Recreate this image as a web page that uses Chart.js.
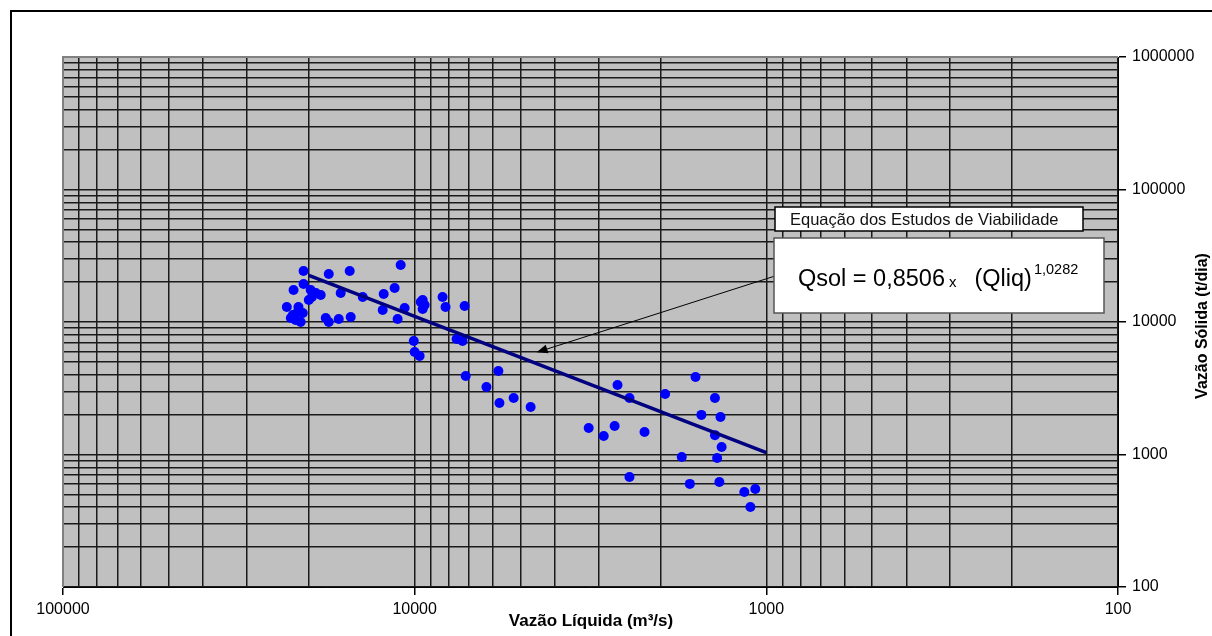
<!DOCTYPE html>
<html>
<head>
<meta charset="utf-8">
<title>Vazão Sólida x Vazão Líquida</title>
<script src="https://cdn.jsdelivr.net/npm/chart.js@4.4.1/dist/chart.umd.min.js"></script>
<style>
  html, body { margin: 0; padding: 0; background: #fff; }
  #wrap { width: 1212px; height: 636px; }
</style>
</head>
<body>
<div id="wrap"><canvas id="grafico" width="1212" height="636"></canvas></div>
<script>
// medições: vazão líquida (m3/s) e vazão sólida (t/dia)
const vazaoLiquida = [20700, 22100, 20700, 19750, 19100, 18500, 19600, 20000, 23100, 21400,
  21500, 20800, 22200, 22500, 21800, 21100, 17550, 15300, 16230, 17550,
  17900, 16440, 15200, 14050, 12250, 11400, 10960, 12330, 11180, 10680,
  9490, 9370, 9490, 9610, 8330, 8170, 7210, 10060, 10000, 9680,
  7600, 7310, 7160, 5780, 6250, 5740, 5230, 4680, 3200, 2900,
  2700, 2650, 2450, 2220, 2450, 1940, 1590, 1400, 1530, 1350,
  1400, 1340, 1740, 1380, 1650, 1360, 1155, 1075, 1110];
const vazaoSolida = [24260, 17430, 19350, 17430, 16550, 15990, 15440, 14660, 12980, 12980,
  11900, 11690, 11290, 10720, 10350, 10000, 23030, 24260, 16550, 10000,
  10720, 10530, 10910, 15440, 16270, 18060, 26930, 12320, 10530, 12750,
  14660, 13440, 12540, 14160, 15440, 12980, 13210, 7190, 5940, 5540,
  7440, 7190, 3910, 4270, 3230, 2450, 2670, 2280, 1585, 1380,
  1640, 3345, 2670, 1480, 676, 2860, 3845, 2670, 1990, 1920,
  1400, 1140, 957, 941, 600, 620, 521, 549, 402];

// reta Qsol = 0,8506 x (Qliq)^1,0282 -> extremos
const retaLiquida = [20000, 1000];
const retaSolida = [22490, 1033];

// rótulos dos eixos
const ticksX = [100000, 10000, 1000, 100];
const ticksY = [100, 1000, 10000, 100000, 1000000];
const subdivisoes = [1, 2, 3, 4, 5, 6, 7, 8, 9];

const pontos = vazaoLiquida.map((q, i) => ({ x: q, y: vazaoSolida[i] }));
const reta = retaLiquida.map((q, i) => ({ x: q, y: retaSolida[i] }));

function linhasGrade(min, max) {
  const valores = [];
  for (let d = min; d < max; d *= 10) {
    subdivisoes.forEach(m => valores.push(m * d));
  }
  valores.push(max);
  return valores;
}

const FONTE = '"Liberation Sans", Arial, sans-serif';

const moldura = {
  id: 'moldura',
  beforeDraw(chart) {
    const { ctx, chartArea: a } = chart;
    ctx.save();
    ctx.fillStyle = '#fff';
    ctx.fillRect(0, 0, chart.width, chart.height);
    ctx.fillStyle = '#c0c0c0';
    ctx.fillRect(a.left, a.top, a.right - a.left, a.bottom - a.top);
    // moldura externa da figura
    ctx.strokeStyle = '#000';
    ctx.lineWidth = 2;
    ctx.beginPath();
    ctx.moveTo(11, chart.height);
    ctx.lineTo(11, 11);
    ctx.lineTo(chart.width, 11);
    ctx.stroke();
    ctx.restore();
  },
  beforeDatasetsDraw(chart) {
    const { ctx, chartArea: a } = chart;
    ctx.save();
    ctx.strokeStyle = '#808080';
    ctx.lineWidth = 2;
    ctx.beginPath();
    ctx.moveTo(a.left, a.bottom);
    ctx.lineTo(a.left, a.top);
    ctx.lineTo(a.right, a.top);
    ctx.stroke();
    ctx.restore();
  },
  afterDraw(chart) {
    const { ctx, scales } = chart;
    ctx.save();

    // seta apontando para a reta
    const px = scales.x.getPixelForValue(4500);
    const py = scales.y.getPixelForValue(5900);
    const sx = 775, sy = 276;
    const ang = Math.atan2(py - sy, px - sx);
    ctx.strokeStyle = '#000';
    ctx.fillStyle = '#000';
    ctx.lineWidth = 1;
    ctx.beginPath();
    ctx.moveTo(sx, sy);
    ctx.lineTo(px - 8 * Math.cos(ang), py - 8 * Math.sin(ang));
    ctx.stroke();
    ctx.beginPath();
    ctx.moveTo(px, py);
    ctx.lineTo(px - 11 * Math.cos(ang) + 4.5 * Math.sin(ang), py - 11 * Math.sin(ang) - 4.5 * Math.cos(ang));
    ctx.lineTo(px - 11 * Math.cos(ang) - 4.5 * Math.sin(ang), py - 11 * Math.sin(ang) + 4.5 * Math.cos(ang));
    ctx.closePath();
    ctx.fill();

    // caixa do título da equação
    ctx.fillStyle = '#fff';
    ctx.fillRect(775, 207, 308, 24);
    ctx.strokeStyle = '#000';
    ctx.lineWidth = 1.5;
    ctx.strokeRect(775, 207, 308, 24);
    ctx.fillStyle = '#111';
    ctx.font = '16.5px ' + FONTE;
    ctx.textBaseline = 'alphabetic';
    ctx.textAlign = 'left';
    ctx.fillText('Equação dos Estudos de Viabilidade', 790, 225);

    // caixa da equação
    ctx.fillStyle = '#fff';
    ctx.fillRect(774, 238, 330, 75);
    ctx.strokeStyle = '#555';
    ctx.lineWidth = 1.5;
    ctx.strokeRect(774, 238, 330, 75);
    ctx.fillStyle = '#000';
    let x = 798;
    ctx.font = '23.5px ' + FONTE;
    ctx.fillText('Qsol = 0,8506', x, 286);
    x += ctx.measureText('Qsol = 0,8506').width + 4;
    ctx.font = '15px ' + FONTE;
    ctx.fillText('x', x, 287);
    x += ctx.measureText('x').width + 18;
    ctx.font = '23.5px ' + FONTE;
    ctx.fillText('(Qliq)', x, 286);
    x += ctx.measureText('(Qliq)').width + 2;
    ctx.font = '14.5px ' + FONTE;
    ctx.fillText('1,0282', x, 274);

    // títulos dos eixos
    ctx.fillStyle = '#000';
    ctx.textAlign = 'center';
    ctx.textBaseline = 'middle';
    ctx.font = 'bold 17px ' + FONTE;
    ctx.fillText('Vazão Líquida (m³/s)', 591, 621);
    ctx.translate(1203, 326);
    ctx.rotate(-Math.PI / 2);
    ctx.font = 'bold 16px ' + FONTE;
    ctx.fillText('Vazão Sólida (t/dia)', 0, 0);
    ctx.restore();
  }
};

new Chart(document.getElementById('grafico'), {
  type: 'scatter',
  data: {
    datasets: [
      {
        label: 'Equação dos Estudos de Viabilidade',
        data: reta,
        showLine: true,
        borderColor: '#000080',
        borderWidth: 3.5,
        pointRadius: 0,
        fill: false
      },
      {
        label: 'Medições',
        data: pontos,
        backgroundColor: '#0000ff',
        borderWidth: 0,
        pointRadius: 5,
        pointHoverRadius: 5
      }
    ]
  },
  options: {
    responsive: false,
    animation: false,
    events: [],
    layout: { padding: { left: 63, top: 57, right: 0, bottom: 0 } },
    plugins: { legend: { display: false }, tooltip: { enabled: false } },
    scales: {
      x: {
        type: 'logarithmic',
        position: 'bottom',
        reverse: true,
        min: 100,
        max: 100000,
        afterBuildTicks: s => { s.ticks = linhasGrade(100, 100000).map(v => ({ value: v })); },
        afterFit: s => { s.height = 49; },
        grid: {
          color: '#1a1a1a',
          lineWidth: 1.5,
          tickLength: 8,
          tickColor: c => (c.tick && ticksX.includes(c.tick.value)) ? '#000' : 'rgba(0,0,0,0)'
        },
        border: { color: '#000', width: 1 },
        ticks: {
          autoSkip: false,
          maxRotation: 0,
          padding: 5,
          color: '#000',
          font: { family: FONTE, size: 16 },
          callback: v => ticksX.includes(v) ? String(v) : ''
        }
      },
      y: {
        type: 'logarithmic',
        position: 'right',
        min: 100,
        max: 1000000,
        afterBuildTicks: s => { s.ticks = linhasGrade(100, 1000000).map(v => ({ value: v })); },
        afterFit: s => { s.width = 94; },
        grid: {
          color: '#1a1a1a',
          lineWidth: 1.5,
          tickLength: 8,
          tickColor: c => (c.tick && ticksY.includes(c.tick.value)) ? '#000' : 'rgba(0,0,0,0)'
        },
        border: { color: '#000', width: 1 },
        ticks: {
          autoSkip: false,
          padding: 6,
          color: '#000',
          font: { family: FONTE, size: 16 },
          callback: v => ticksY.includes(v) ? String(v) : ''
        }
      }
    }
  },
  plugins: [moldura]
});
</script>
</body>
</html>
